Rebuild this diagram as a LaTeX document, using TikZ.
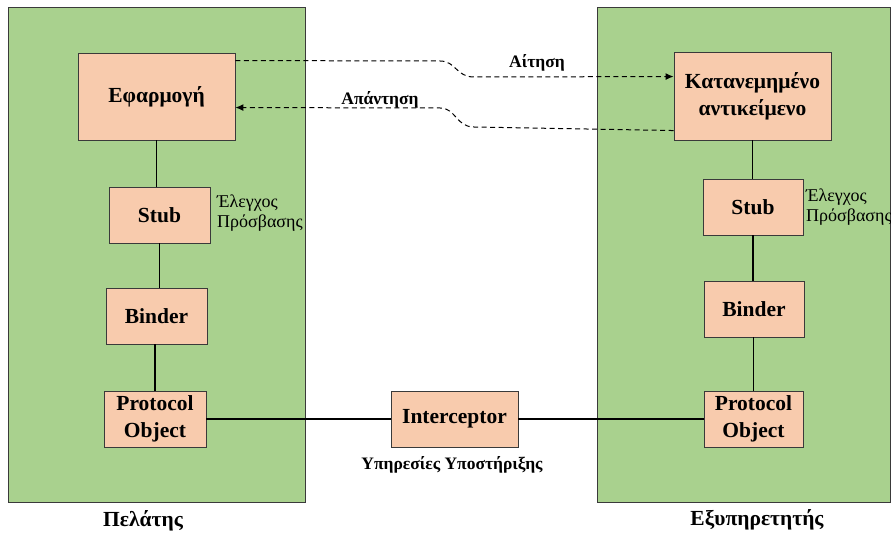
\documentclass[tikz,border=0pt]{standalone}
\usepackage{fontspec}
\setmainfont{Liberation Serif}
\usetikzlibrary{arrows.meta,calc}
\definecolor{panelgreen}{HTML}{A9D18E}
\definecolor{boxpeach}{HTML}{F8CBAD}
\definecolor{edgegray}{HTML}{3A3A3A}
\tikzset{
  panel/.style={draw=edgegray,fill=panelgreen,line width=1pt},
  compbox/.style={draw=edgegray,fill=boxpeach,line width=0.9pt,align=center,
    font=\fontsize{21.5}{27}\selectfont\bfseries,inner sep=0pt},
  link/.style={draw=black,line width=1.3pt},
  msg/.style={draw=black,line width=1pt,dash pattern=on 5pt off 3.5pt,-{Latex[length=8pt,width=7pt]}},
  msglabel/.style={font=\fontsize{17.5}{21}\selectfont\bfseries,inner sep=0pt},
  note/.style={font=\fontsize{18}{19.5}\selectfont,align=left,inner sep=0pt,anchor=west},
  caption/.style={font=\fontsize{21.5}{25}\selectfont\bfseries,inner sep=0pt}
}
\begin{document}
\begin{tikzpicture}[x=1pt,y=1pt]
\useasboundingbox (0,0) rectangle (891,536);
% client and server panels
\draw[panel] (8,34) rectangle (305,528);
\draw[panel] (597,34) rectangle (890.5,528);

% client side components
\node[compbox,minimum width=157,minimum height=87] (app) at (156.5,439.5) {Εφαρμογή};
\node[compbox,minimum width=101,minimum height=56] (stubL) at (159.5,321) {Stub};
\node[compbox,minimum width=101,minimum height=56] (binderL) at (156.5,220) {Binder};
\node[compbox,minimum width=102,minimum height=56] (protoL) at (155,117) {Protocol\\Object};

% server side components
\node[compbox,minimum width=157,minimum height=88] (obj) at (752.5,440) {Κατανεμημένο\\αντικείμενο};
\node[compbox,minimum width=100,minimum height=56] (stubR) at (753,329) {Stub};
\node[compbox,minimum width=100,minimum height=56] (binderR) at (754,227) {Binder};
\node[compbox,minimum width=99,minimum height=56] (protoR) at (753.5,117) {Protocol\\Object};

% interceptor between the two protocol objects
\node[compbox,minimum width=127,minimum height=56] (icpt) at (454.5,117) {Interceptor};

% vertical stacks
\draw[link] (app.south) -- (app.south |- stubL.north);
\draw[link] (stubL.south) -- (stubL.south |- binderL.north);
\draw[link] (protoL.north |- binderL.south) -- (protoL.north);
\draw[link] (obj.south) -- (obj.south |- stubR.north);
\draw[link] (stubR.south) -- (stubR.south |- binderR.north);
\draw[link] (protoR.north |- binderR.south) -- (protoR.north);

% horizontal chain
\draw[link] (protoL.east) -- (icpt.west);
\draw[link] (icpt.east) -- (protoR.west);

% request / reply messages
\coordinate (reqS) at ($(app.north east)+(0,-8)$);
\coordinate (reqE) at ($(obj.north west)+(0,-25)$);
\coordinate (repS) at ($(obj.north west)+(0,-79)$);
\coordinate (repE) at ($(app.north east)+(0,-55)$);
\draw[msg] (reqS) -- (440,475) .. controls (456,475) and (456,459) .. (474,459) -- (reqE);
\draw[msg] (repS) -- (474,409) .. controls (456,409) and (456,428) .. (440,428) -- (repE);
\node[msglabel] (reqLbl) at (537,473) {Αίτηση};
\node[msglabel] (repLbl) at (380,436) {Απάντηση};

% access control notes
\node[note] (accL) at (217,323) {Έλεγχος\\Πρόσβασης};
\node[note] (accR) at (806,329) {Έλεγχος\\Πρόσβασης};

% captions
\node[msglabel] (supp) at (452,71) {Υπηρεσίες Υποστήριξης};
\node[caption] (client) at (143,15) {Πελάτης};
\node[caption] (server) at (757,16) {Εξυπηρετητής};
\end{tikzpicture}
\end{document}
